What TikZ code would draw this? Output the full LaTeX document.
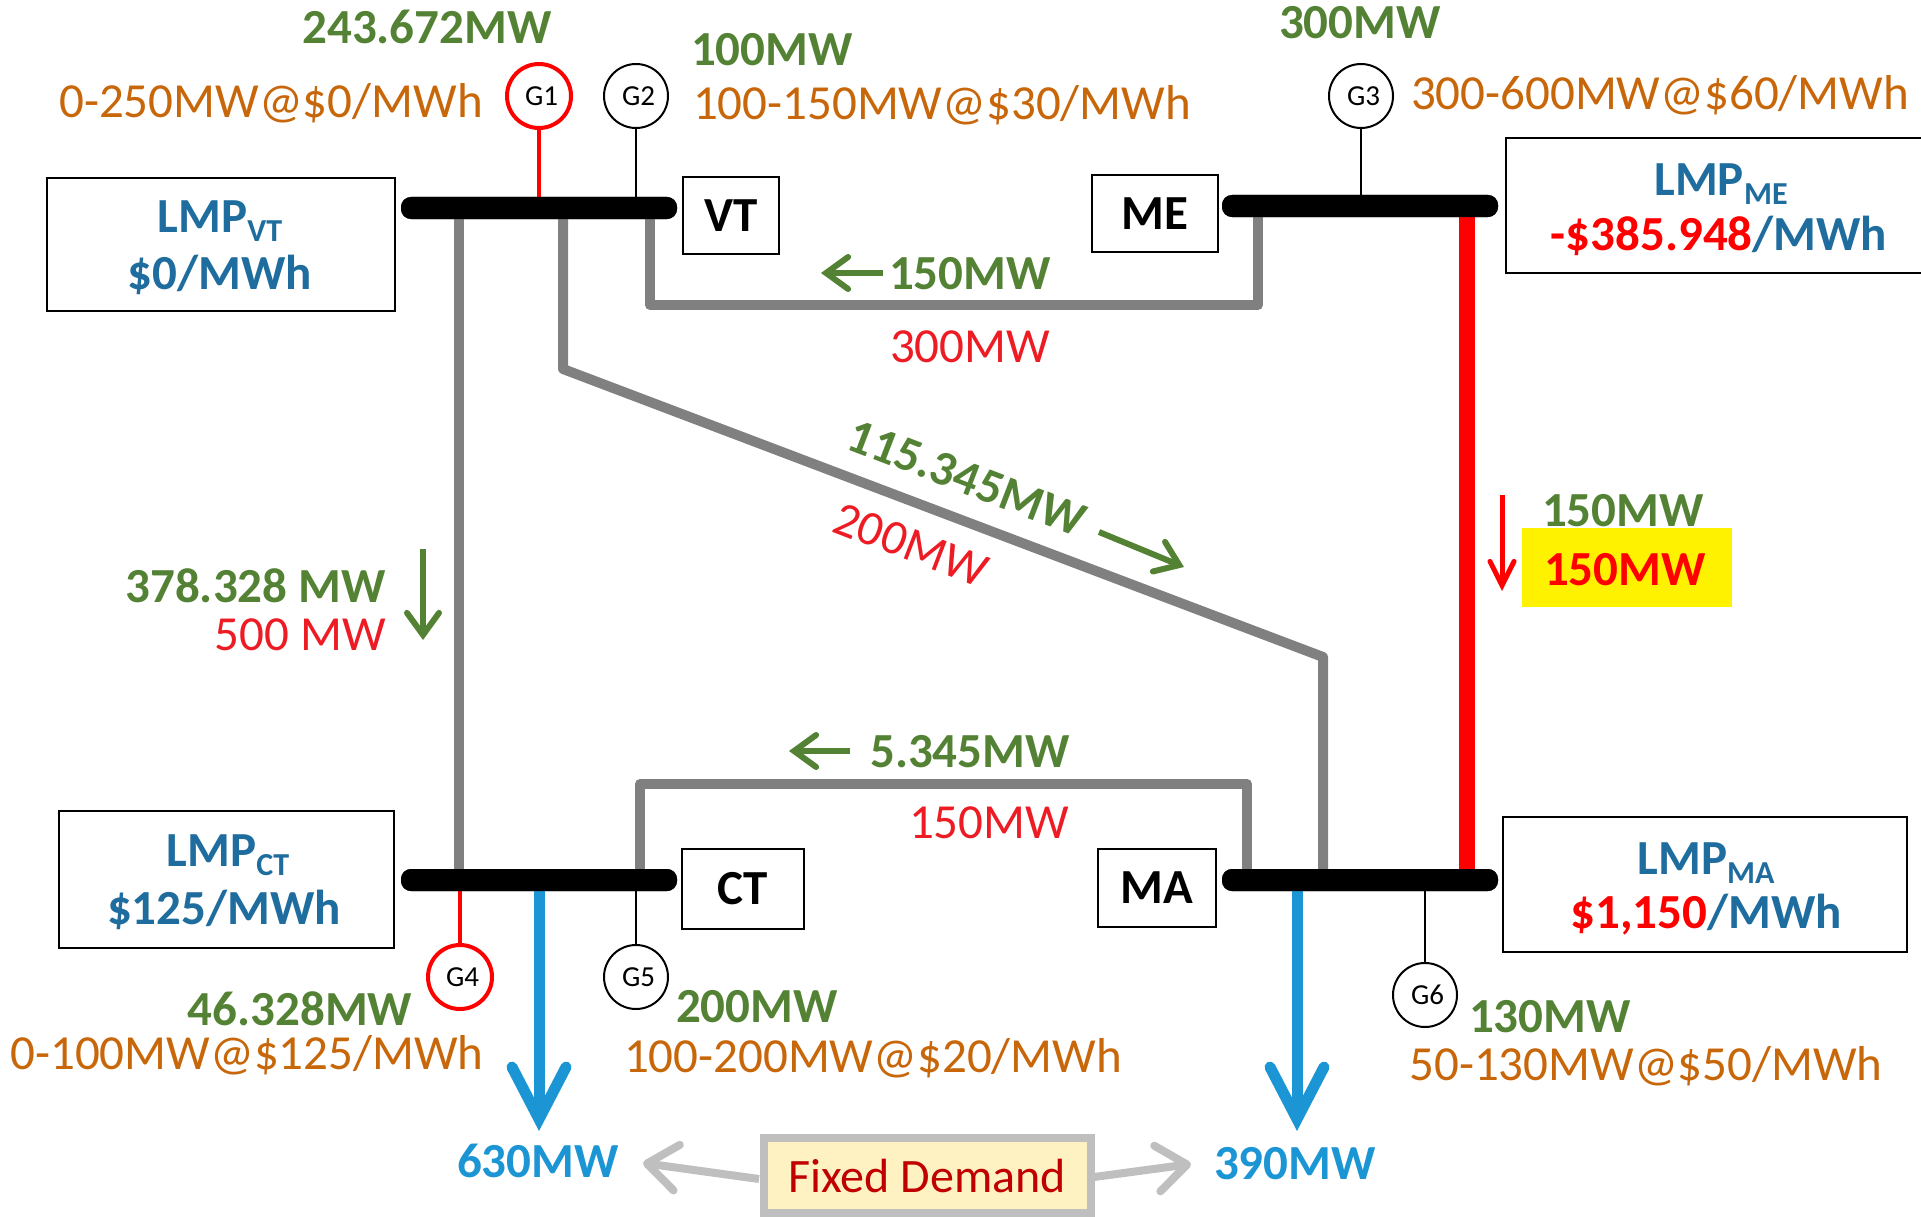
\documentclass[tikz,border=0pt]{standalone}
\usepackage{fontspec}
\setmainfont{Carlito}
\usetikzlibrary{arrows.meta}
\definecolor{flowgreen}{HTML}{548235}
\definecolor{offerorange}{HTML}{C8660A}
\definecolor{limitred}{HTML}{ED1C24}
\definecolor{lmpblue}{HTML}{1F6C9E}
\definecolor{loadblue}{HTML}{1B95D3}
\definecolor{linegray}{HTML}{808080}
\definecolor{softgray}{HTML}{BFBFBF}
\definecolor{demandfill}{HTML}{FFF2C2}
\definecolor{demandred}{HTML}{C00000}
\newcommand{\bigfont}{\fontsize{49}{54}\selectfont}
\newcommand{\lmpsub}[1]{\raisebox{-9pt}{\fontsize{32}{32}\selectfont #1}}
\newcommand{\genname}[1]{\raisebox{-3.5pt}{\hspace{5pt}#1}}
\tikzset{
  x=1pt,y=-1pt,
  txt/.style={inner sep=0pt,font=\bigfont,align=center},
  flow/.style={txt,text=flowgreen,font=\bigfont\bfseries},
  offer/.style={txt,text=offerorange},
  limit/.style={txt,text=limitred},
  load/.style={txt,text=loadblue,font=\bigfont\bfseries},
  lmp/.style={inner sep=0pt,text=lmpblue,font=\bigfont\bfseries,align=center},
  busbar/.style={fill=black,rounded corners=10pt,minimum width=276pt,minimum height=22pt,inner sep=0pt},
  genbase/.style={circle,draw=black,line width=2pt,fill=white,minimum size=64pt,inner sep=0pt,font=\fontsize{29}{30}\selectfont},
  genred/.style={genbase,draw=red,line width=4pt},
  buslabel/.style={rectangle,draw=black,line width=2pt,fill=white,inner sep=0pt,font=\bigfont\bfseries},
  lmpbox/.style={rectangle,draw=black,line width=2pt,fill=white,inner sep=0pt},
  tline/.style={draw=linegray,line width=10pt,line join=round},
  stub/.style={draw=black,line width=2pt},
  stubred/.style={draw=red,line width=4pt},
  greenarrow/.style={draw=flowgreen,line width=6pt,-{Straight Barb[length=22pt,width=32pt,line cap=round,line join=miter]}},
  redarrow/.style={draw=red,line width=5pt,-{Straight Barb[length=24pt,width=24pt,line cap=round,line join=miter]}},
  loadarrow/.style={draw=loadblue,line width=11pt,-{Straight Barb[length=52pt,width=54pt,line cap=round,line join=miter]}},
  demandarrow/.style={draw=softgray,line width=8pt,-{Straight Barb[length=30pt,width=46pt,round]}},
}
\begin{document}
\begin{tikzpicture}
\clip (0,0) rectangle (1921,1217);
\path[use as bounding box] (0,0) rectangle (1921,1217);
% buses
\node[busbar] (bvt) at (539,208) {};
\node[busbar] (bme) at (1360,206) {};
\node[busbar] (bct) at (539,880) {};
\node[busbar] (bma) at (1360,880) {};
% line bend points
\coordinate (vta) at (459,208);
\coordinate (cta) at (459,880);
\coordinate (vtb) at (563,208);
\coordinate (bendb1) at (563,369);
\coordinate (bendb2) at (1323,657);
\coordinate (mab) at (1323,880);
\coordinate (vtc) at (650,208);
\coordinate (bendc1) at (650,305);
\coordinate (bendc2) at (1258,305);
\coordinate (mec) at (1258,206);
\coordinate (ctd) at (640,880);
\coordinate (bendd1) at (640,784);
\coordinate (bendd2) at (1247,784);
\coordinate (mad) at (1247,880);
\coordinate (mee) at (1467,206);
\coordinate (mae) at (1467,880);
\path[tline] (vta) -- (cta);
\path[tline] (vtb) -- (bendb1) -- (bendb2) -- (mab);
\path[tline] (vtc) -- (bendc1) -- (bendc2) -- (mec);
\path[tline] (ctd) -- (bendd1) -- (bendd2) -- (mad);
\path[draw=red,line width=16pt] (mee) -- (mae);
% load arrows
\coordinate (ctload) at (539,880);
\coordinate (ctloadtip) at (539,1131);
\coordinate (maload) at (1297,880);
\coordinate (maloadtip) at (1297,1131);
\draw[loadarrow] (ctload) -- (ctloadtip);
\draw[loadarrow] (maload) -- (maloadtip);
% generators
\node[genred] (g1) at (539,96) {\genname{G1}};
\node[genbase] (g2) at (636,96) {\genname{G2}};
\node[genbase] (g3) at (1361,96) {\genname{G3}};
\node[genred] (g4) at (460,977) {\genname{G4}};
\node[genbase] (g5) at (636,977) {\genname{G5}};
\node[genbase] (g6) at (1425,995) {\genname{G6}};
\path[stubred] (g1.south) -- (g1.south |- bvt.center);
\path[stub] (g2.south) -- (g2.south |- bvt.center);
\path[stub] (g3.south) -- (g3.south |- bme.center);
\path[stubred] (g4.north) -- (g4.north |- bct.center);
\path[stub] (g5.north) -- (g5.north |- bct.center);
\path[stub] (g6.north) -- (g6.north |- bma.center);
% redraw buses on top
\node[busbar] at (bvt) {};
\node[busbar] at (bme) {};
\node[busbar] at (bct) {};
\node[busbar] at (bma) {};
% bus labels
\node[buslabel,minimum width=96pt,minimum height=77pt] (lvt) at (731,215.5) {VT};
\node[buslabel,minimum width=126pt,minimum height=77pt] (lme) at (1155,213.5) {ME};
\node[buslabel,minimum width=122pt,minimum height=80pt] (lct) at (743,889) {CT};
\node[buslabel,minimum width=118pt,minimum height=78pt] (lma) at (1157,888) {MA};
% LMP boxes
\node[lmpbox,minimum width=348pt,minimum height=133pt] (bxvt) at (220.5,244.5) {};
\node[lmpbox,minimum width=440pt,minimum height=135pt] (bxme) at (1725.5,205.5) {};
\node[lmpbox,minimum width=335pt,minimum height=137pt] (bxct) at (226.5,879.5) {};
\node[lmpbox,minimum width=404pt,minimum height=135pt] (bxma) at (1705,884.5) {};
\node[lmp] (tvt1) at (220,221) {LMP\lmpsub{VT}};
\node[lmp] (tvt2) at (220,275) {\$0/MWh};
\node[lmp] (tme1) at (1721,184) {LMP\lmpsub{ME}};
\node[lmp] (tme2) at (1719,236) {\textcolor{red}{-\$385.948}/MWh};
\node[lmp] (tct1) at (228,855) {LMP\lmpsub{CT}};
\node[lmp] (tct2) at (224,910) {\$125/MWh};
\node[lmp] (tma1) at (1706,863) {LMP\lmpsub{MA}};
\node[lmp] (tma2) at (1706,915) {\textcolor{red}{\$1,150}/MWh};
% generator texts
\node[flow] (f1) at (427,27) {243.672MW};
\node[offer] (o1) at (271,103) {0-250MW@\$0/MWh};
\node[flow] (f2) at (772,50) {100MW};
\node[offer] (o2) at (942,105) {100-150MW@\$30/MWh};
\node[flow] (f3) at (1360,23) {300MW};
\node[offer] (o3) at (1660,95) {300-600MW@\$60/MWh};
\node[flow] (f4) at (300,1009) {46.328MW};
\node[offer] (o4) at (247,1055) {0-100MW@\$125/MWh};
\node[flow] (f5) at (757,1007) {200MW};
\node[offer] (o5) at (873,1058) {100-200MW@\$20/MWh};
\node[flow] (f6) at (1550,1017) {130MW};
\node[offer] (o6) at (1646,1066) {50-130MW@\$50/MWh};
% line flow texts
\node[flow] (t1) at (970,274) {150MW};
\coordinate (a1s) at (883,273);
\coordinate (a1e) at (821,273);
\draw[greenarrow] (a1s) -- (a1e);
\node[limit] (l1) at (970,347) {300MW};
\node[flow,rotate=-21] (t2) at (967,478) {115.345MW};
\node[limit,rotate=-21] (l2) at (911,545) {200MW};
\coordinate (a2s) at (1099,532);
\coordinate (a2e) at (1184,567);
\draw[greenarrow] (a2s) -- (a2e);
\node[flow,anchor=east] (t3) at (386,586) {378.328 MW};
\node[limit,anchor=east] (l3) at (386,635) {500 MW};
\coordinate (a3s) at (423,549);
\coordinate (a3e) at (423,640);
\draw[greenarrow] (a3s) -- (a3e);
\node[flow] (t4) at (970,752) {5.345MW};
\coordinate (a4s) at (850,751);
\coordinate (a4e) at (789,751);
\draw[greenarrow] (a4s) -- (a4e);
\node[limit] (l4) at (989,823) {150MW};
\coordinate (a5s) at (1502,495);
\coordinate (a5e) at (1502,591);
\draw[redarrow] (a5s) -- (a5e);
\node[flow] (t5) at (1623,511) {150MW};
\node[fill=yellow,minimum width=210pt,minimum height=79pt,inner sep=0pt] (yb) at (1627,567.5) {};
\node[txt,text=red,font=\bigfont\bfseries] (l5) at (1625,570) {150MW};
% demand
\node[load] (d1) at (538,1161) {630MW};
\node[load] (d2) at (1295,1164) {390MW};
\node[draw=softgray,line width=8pt,fill=demandfill,minimum width=327pt,minimum height=75pt,inner sep=0pt,text=demandred,font=\fontsize{48}{52}\selectfont] (fd) at (927,1175.5) {\raisebox{-6pt}{Fixed Demand}};
\coordinate (dl) at (759,1179);
\coordinate (dlt) at (643,1163);
\coordinate (dr) at (1094,1177);
\coordinate (drt) at (1191,1164);
\draw[demandarrow] (dl) -- (dlt);
\draw[demandarrow] (dr) -- (drt);
\end{tikzpicture}
\end{document}
